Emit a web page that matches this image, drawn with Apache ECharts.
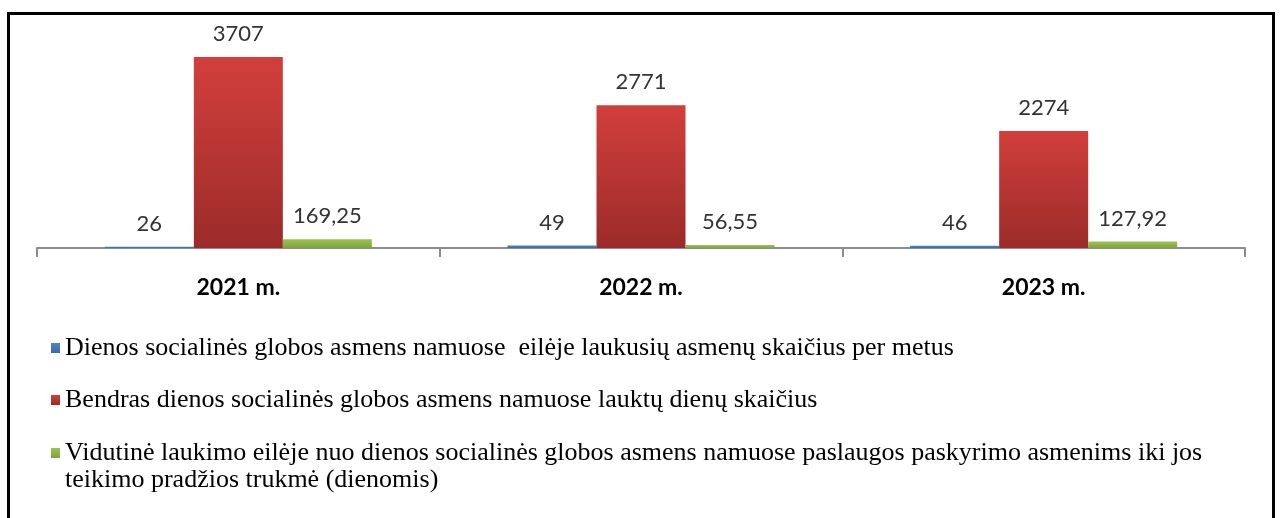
<!DOCTYPE html>
<html>
<head>
<meta charset="utf-8">
<script src="https://cdn.jsdelivr.net/npm/echarts@6/dist/echarts.min.js"></script>
<style>
    html, body { margin: 0; padding: 0; background: #fff; }
    #chart { width: 1281px; height: 518px; }
</style>
</head>
<body>
<div id="chart"></div>
<script>
    var years = ['2021 m.', '2022 m.', '2023 m.'];
    var seriesNames = [
        'Dienos socialinės globos asmens namuose  eilėje laukusių asmenų skaičius per metus',
        'Bendras dienos socialinės globos asmens namuose lauktų dienų skaičius',
        'Vidutinė laukimo eilėje nuo dienos socialinės globos asmens namuose paslaugos paskyrimo asmenims iki jos teikimo pradžios trukmė (dienomis)'
    ];
    var waitingPersons = [26, 49, 46];
    var totalDays = [3707, 2771, 2274];
    var avgDays = [169.25, 56.55, 127.92];

    function grad(top, bottom) {
        return new echarts.graphic.LinearGradient(0, 0, 0, 1, [
            {offset: 0, color: top},
            {offset: 1, color: bottom}
        ]);
    }

    var labelFont = 'Lato, "Open Sans", sans-serif';
    var legendFont = '"Liberation Serif", "Times New Roman", serif';

    function barSeries(name, data, top, bottom) {
        return {
            name: name,
            type: 'bar',
            data: data,
            barWidth: 89,
            barGap: 0,
            itemStyle: {color: grad(top, bottom)},
            label: {
                show: true,
                position: 'top',
                distance: 12,
                color: '#333',
                fontSize: 22,
                fontFamily: labelFont,
                formatter: function (p) {
                    return String(p.value).replace('.', ',');
                }
            }
        };
    }

    var chart = echarts.init(document.getElementById('chart'));
    var option = {
        backgroundColor: '#fff',
        animation: false,
        graphic: [{
            type: 'rect',
            shape: {x: 8.5, y: 13.5, width: 1265, height: 520},
            style: {fill: 'none', stroke: '#000', lineWidth: 3},
            silent: true
        }],
        grid: {left: 37, right: 36, top: 42, bottom: 270},
        xAxis: {
            type: 'category',
            data: years,
            axisLine: {show: true, lineStyle: {color: '#8c8c8c', width: 2}},
            axisTick: {show: true, length: 9, lineStyle: {color: '#8c8c8c', width: 2}},
            axisLabel: {
                margin: 28,
                color: '#000',
                fontSize: 23,
                fontWeight: 'bold',
                fontFamily: labelFont
            }
        },
        yAxis: {
            type: 'value',
            min: 0,
            max: 4000,
            show: false
        },
        legend: [{
            orient: 'vertical',
            left: 51,
            top: 334.5,
            padding: 0,
            itemWidth: 9,
            itemHeight: 10,
            itemGap: 25,
            icon: 'rect',
            data: [seriesNames[0], seriesNames[1]],
            textStyle: {
                fontFamily: legendFont,
                fontSize: 26,
                lineHeight: 27,
                color: '#000'
            }
        }, {
            orient: 'vertical',
            left: 51,
            top: 412.5,
            padding: 0,
            itemWidth: 9,
            itemHeight: 10,
            icon: 'rect',
            data: [seriesNames[2]],
            // leading empty line keeps the marker level with the first text line
            formatter: function (name) {
                return '\n' + name;
            },
            textStyle: {
                fontFamily: legendFont,
                fontSize: 26,
                lineHeight: 27,
                color: '#000',
                width: 1200,
                overflow: 'break'
            }
        }],
        series: [
            barSeries(seriesNames[0], waitingPersons, '#4f85c6', '#3a6aa6'),
            barSeries(seriesNames[1], totalDays, '#d23f3c', '#9b2b29'),
            barSeries(seriesNames[2], avgDays, '#9cc451', '#7ea33b')
        ]
    };
    chart.setOption(option);
</script>
</body>
</html>
